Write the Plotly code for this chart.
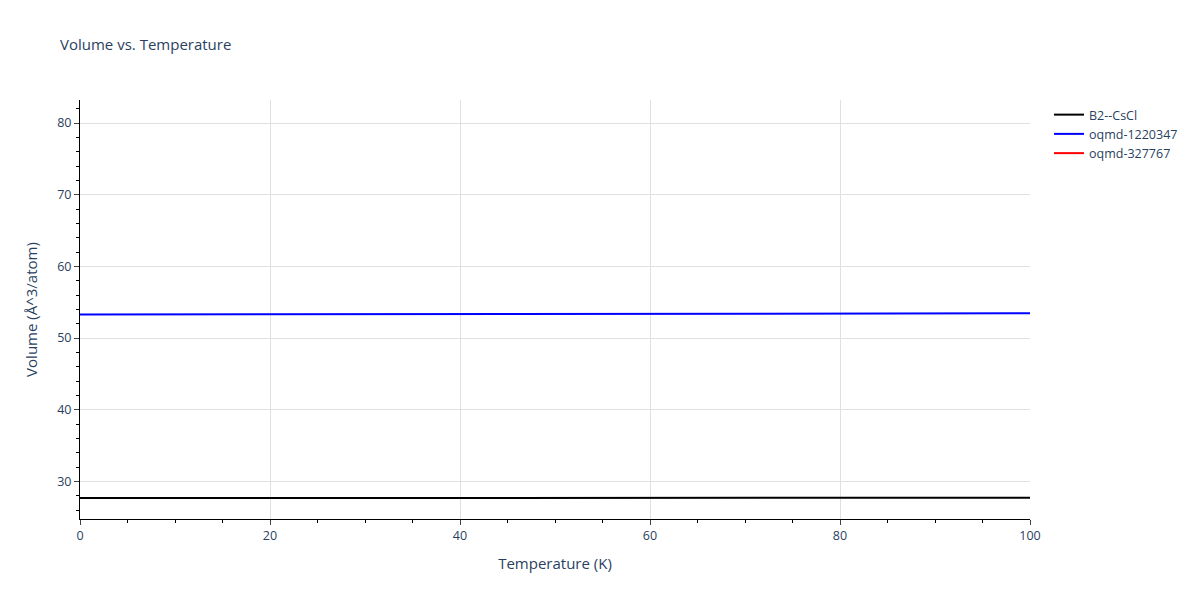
import plotly.graph_objects as go

# temperatures (K)
temps = [0, 10, 20, 30, 40, 50, 60, 70, 80, 90, 100]

# volume per atom (A^3/atom)
vol_b2 = [27.68, 27.68, 27.69, 27.69, 27.70, 27.70, 27.71, 27.71, 27.72, 27.72, 27.73]
vol_1220347 = [53.28, 53.29, 53.30, 53.32, 53.34, 53.36, 53.38, 53.40, 53.42, 53.44, 53.46]
# only one point for this one, so no line segment shows up
temps_327767 = [0]
vol_327767 = [80.3]

fig = go.Figure()
fig.add_trace(go.Scatter(x=temps, y=vol_b2, mode='lines', name='B2--CsCl',
                         line=dict(color='black', width=2)))
fig.add_trace(go.Scatter(x=temps, y=vol_1220347, mode='lines', name='oqmd-1220347',
                         line=dict(color='blue', width=2)))
fig.add_trace(go.Scatter(x=temps_327767, y=vol_327767, mode='lines', name='oqmd-327767',
                         line=dict(color='red', width=2)))

axis_style = dict(showline=True, linecolor='black', linewidth=1,
                  ticks='outside', gridcolor='#e0e0e0', zeroline=False,
                  tickfont=dict(size=12.5), title_font=dict(size=15))

# the page body adds an 8px offset, margins compensate for it
fig.update_layout(
    title=dict(text='Volume vs. Temperature', font=dict(size=15),
               x=52 / 1200, xanchor='left', y=1 - 37 / 600, yanchor='middle'),
    font=dict(family='Open Sans', color='#2a3f5f'),
    legend=dict(font=dict(size=12.5)),
    plot_bgcolor='white',
    paper_bgcolor='white',
    width=1200, height=600,
    margin=dict(l=72, t=92, b=89, r=178),
    xaxis=dict(title='Temperature (K)', range=[0, 100], dtick=20,
               minor=dict(ticks='outside', dtick=5, tickcolor='black'), **axis_style),
    yaxis=dict(title='Volume (Å^3/atom)', dtick=10,
               minor=dict(ticks='outside', dtick=2, tickcolor='black'), **axis_style),
)

fig.write_html("out.html")
